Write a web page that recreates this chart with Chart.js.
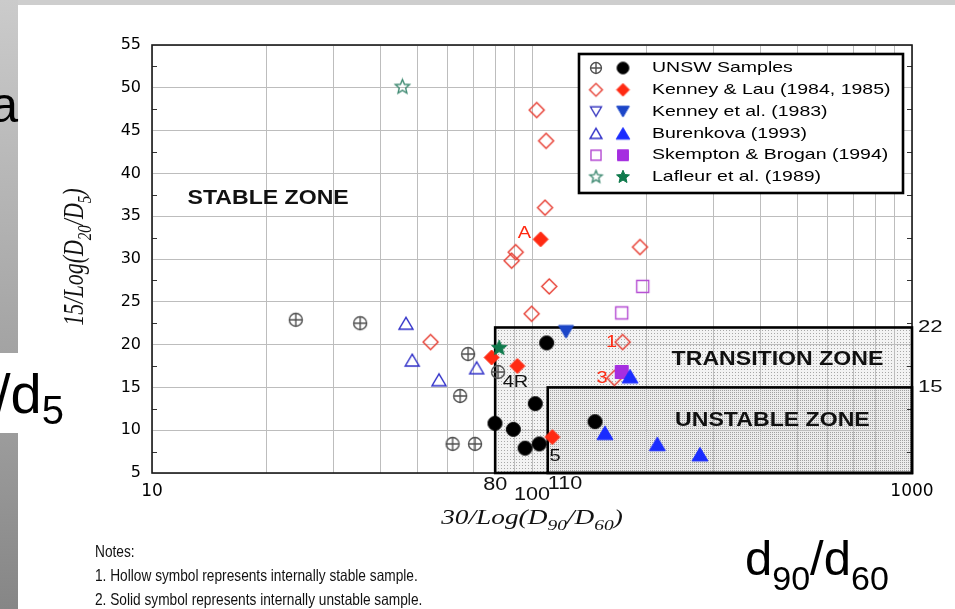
<!DOCTYPE html>
<html lang="en">
<head>
<meta charset="UTF-8">
<title>Internal stability criteria</title>
<script src="https://cdn.jsdelivr.net/npm/chart.js@4"></script>
<style>
  body { margin: 0; width: 955px; height: 609px; overflow: hidden; background: #fff; position: relative; font-family: "Liberation Sans", Arial, sans-serif; }
  #chart { position: absolute; left: 0; top: 0; }
  .topbar { position: absolute; left: 0; top: 0; width: 955px; height: 5px; background: #cecece; }
  .side { position: absolute; left: 0; width: 18px; }
  .big { position: absolute; color: #000; white-space: nowrap; z-index: 2; }
  .notes { position: absolute; left: 95px; top: 539px; font-size: 16.5px; line-height: 24px; color: #111; transform: scaleX(0.83); transform-origin: left top; white-space: nowrap; z-index: 2; }
</style>
</head>
<body>
<div class="topbar"></div>
<div class="side" style="top:0; height:353px; background:linear-gradient(#cbcbcb, #a3a3a3);"></div>
<div class="side" style="top:433px; height:176px; background:linear-gradient(#9c9c9c, #868686);"></div>
<div class="big" style="right:937px; top:80px; font-size:50px; line-height:50px;">a</div>
<div class="big" style="left:-5px; top:366px; font-size:56px; line-height:56px;">/d<span style="font-size:40px; position:relative; top:11px;">5</span></div>
<canvas id="chart" width="955" height="609"></canvas>
<div class="notes">Notes:<br>1. Hollow symbol represents internally stable sample.<br>2. Solid symbol represents internally unstable sample.</div>
<div class="big" style="left:745px; top:534px; font-size:49px; line-height:49px;">d<span style="font-size:34px; position:relative; top:15px;">90</span>/d<span style="font-size:34px; position:relative; top:15px;">60</span></div>
<script>
// values: [30/Log(D90/D60), 15/Log(D20/D5)]
const unswStable = [[23.9,22.9],[35.3,22.5],[67.9,18.9],[81.4,16.8],[64.7,14.0],[61.8,8.4],[70.8,8.4]];
const unswUnstable = [[109.3,20.2],[102,13.1],[79.9,10.8],[89.3,10.1],[95.9,7.9],[104.5,8.4],[146.5,11.0]];
const kenneyLauStable = [[102.9,47.4],[108.9,43.8],[108.2,36.0],[90.6,30.8],[88.4,29.8],[111,26.8],[99.8,23.6],[192.4,31.4],[173.2,20.3],[164.7,16.1],[54.1,20.3]];
const kenneyLauUnstable = [[105.4,32.3],[78.3,18.5],[91.5,17.5],[113.1,9.2]];
const kenney83Stable = [];
const kenney83Unstable = [[122.9,21.5]];
const burenkovaStable = [[46.6,22.5],[48.4,18.2],[56.9,15.9],[71.5,17.3]];
const burenkovaUnstable = [[181.1,16.3],[155.6,9.7],[213.7,8.4],[276.7,7.2]];
const skemptonStable = [[195.6,26.8],[172.2,23.7]];
const skemptonUnstable = [[172.2,16.8]];
const lafleurStable = [[45.6,50.1]];
const lafleurUnstable = [[82.0,19.6]];

const legendNames = ['UNSW Samples', 'Kenney & Lau (1984, 1985)', 'Kenney et al. (1983)', 'Burenkova (1993)', 'Skempton & Brogan (1994)', 'Lafleur et al. (1989)'];
const xGridValues = [10,20,30,40,50,60,70,80,90,100,200,300,400,500,600,700,800,900,1000];
const xLabelledTicks = [10, 1000];
const xExtraTicks = [80, 100, 110];
const xExtraLabels = ['80', '100', '110'];
const yTicks = [5,10,15,20,25,30,35,40,45,50,55];
const transitionZone = { x: 80, y: 22 };
const unstableZone = { x: 110, y: 15 };

const RED = '#ff2a12';
const SX = 1.3; // the figure's text is stretched sideways

// marker images
function makeMarker(kind, size, color, filled) {
    const c = document.createElement('canvas');
    c.width = c.height = Math.ceil(size) + 4;
    const g = c.getContext('2d');
    const m = c.width / 2, r = size / 2;
    g.strokeStyle = color; g.fillStyle = color;
    g.lineWidth = filled ? 1 : 1.4;
    g.beginPath();
    if (kind === 'circle' || kind === 'circleCross') {
        g.arc(m, m, r - 0.5, 0, Math.PI * 2);
    } else if (kind === 'diamond') {
        g.moveTo(m, m - r); g.lineTo(m + r, m); g.lineTo(m, m + r); g.lineTo(m - r, m); g.closePath();
    } else if (kind === 'square') {
        g.rect(m - r + 0.5, m - r + 0.5, 2 * r - 1, 2 * r - 1);
    } else if (kind === 'triUp') {
        const h = r * 0.85;
        g.moveTo(m, m - h); g.lineTo(m + r, m + h); g.lineTo(m - r, m + h); g.closePath();
    } else if (kind === 'triDown') {
        const h = r * 0.85;
        g.moveTo(m - r, m - h); g.lineTo(m + r, m - h); g.lineTo(m, m + h); g.closePath();
    } else if (kind === 'star') {
        for (let i = 0; i < 10; i++) {
            const rr = i % 2 ? r * 0.45 : r;
            const a = -Math.PI / 2 + i * Math.PI / 5;
            i ? g.lineTo(m + rr * Math.cos(a), m + rr * Math.sin(a)) : g.moveTo(m + rr * Math.cos(a), m + rr * Math.sin(a));
        }
        g.closePath();
    }
    if (filled) g.fill();
    g.stroke();
    if (kind === 'circleCross') {
        g.beginPath();
        g.moveTo(m - r + 0.5, m); g.lineTo(m + r - 0.5, m);
        g.moveTo(m, m - r + 0.5); g.lineTo(m, m + r - 0.5);
        g.stroke();
    }
    return c;
}

// one entry per legend row, hollow = stable, solid = unstable
const sources = [
    { stable: unswStable, unstable: unswUnstable, z: 1,
      hollow: ['circleCross', 14, '#505050'], solid: ['circle', 15, '#000'] },
    { stable: kenneyLauStable, unstable: kenneyLauUnstable, z: 2,
      hollow: ['diamond', 15, '#e63a2e'], solid: ['diamond', 15, RED] },
    { stable: kenney83Stable, unstable: kenney83Unstable, z: 3,
      hollow: ['triDown', 13, '#3a3ac0'], solid: ['triDown', 15, '#1c46c8'] },
    { stable: burenkovaStable, unstable: burenkovaUnstable, z: 5,
      hollow: ['triUp', 14, '#2e2ec8'], solid: ['triUp', 16, '#1a2cff'] },
    { stable: skemptonStable, unstable: skemptonUnstable, z: 4,
      hollow: ['square', 13, '#b44ad2'], solid: ['square', 14, '#a52ee0'] },
    { stable: lafleurStable, unstable: lafleurUnstable, z: 6,
      hollow: ['star', 15, '#3f8a72'], solid: ['star', 16, '#0f7a4c'] }
];

const datasets = [];
sources.forEach((s, i) => {
    s.hollowImg = makeMarker(s.hollow[0], s.hollow[1], s.hollow[2], false);
    s.solidImg = makeMarker(s.solid[0], s.solid[1], s.solid[2], true);
    s.hollowLeg = makeMarker(s.hollow[0], s.hollow[1] * 0.85, s.hollow[2], false);
    s.solidLeg = makeMarker(s.solid[0], s.solid[1] * 0.85, s.solid[2], true);
    datasets.push({ label: legendNames[i] + ' (stable)', data: s.stable.map(p => ({ x: p[0], y: p[1] })),
        pointStyle: s.hollowImg, pointRadius: 7, order: 20 - 2 * s.z });
    datasets.push({ label: legendNames[i] + ' (unstable)', data: s.unstable.map(p => ({ x: p[0], y: p[1] })),
        pointStyle: s.solidImg, pointRadius: 7, order: 19 - 2 * s.z });
});

function stretchText(ctx, str, x, y, font, color, align, sx) {
    ctx.save();
    ctx.font = font; ctx.fillStyle = color;
    ctx.textBaseline = 'middle'; ctx.textAlign = 'left';
    const w = ctx.measureText(str).width * sx;
    const x0 = align === 'center' ? x - w / 2 : align === 'right' ? x - w : x;
    ctx.translate(x0, y); ctx.scale(sx, 1);
    ctx.fillText(str, 0, 0);
    ctx.restore();
}

// text with subscripts, drawn centred on the current origin
function richText(ctx, segs, size) {
    const base = 'italic ' + size + 'px "Liberation Serif", "Times New Roman", serif';
    const sub = 'italic ' + Math.round(size * 0.7) + 'px "Liberation Serif", "Times New Roman", serif';
    let w = 0;
    segs.forEach(s => { ctx.font = s[1] ? sub : base; w += ctx.measureText(s[0]).width; });
    let x = -w / 2;
    ctx.textBaseline = 'alphabetic'; ctx.textAlign = 'left'; ctx.fillStyle = '#111';
    segs.forEach(s => {
        ctx.font = s[1] ? sub : base;
        ctx.fillText(s[0], x, s[1] ? size * 0.62 : size * 0.35);
        x += ctx.measureText(s[0]).width;
    });
}

function makePattern(ctx, tile, base, dot) {
    const c = document.createElement('canvas');
    c.width = c.height = tile;
    const g = c.getContext('2d');
    g.fillStyle = base; g.fillRect(0, 0, tile, tile);
    g.fillStyle = dot; g.fillRect(0, 0, 1, 1);
    return ctx.createPattern(c, 'repeat');
}

const zonePlugin = {
    id: 'zones',
    beforeDraw(chart) {
        const { ctx, chartArea: a, scales: { x, y } } = chart;
        const tx = x.getPixelForValue(transitionZone.x), ty = y.getPixelForValue(transitionZone.y);
        const ux = x.getPixelForValue(unstableZone.x), uy = y.getPixelForValue(unstableZone.y);
        ctx.save();
        ctx.fillStyle = '#fff';
        ctx.fillRect(a.left, a.top, a.right - a.left, a.bottom - a.top);
        ctx.fillStyle = makePattern(ctx, 3, '#f3f3f3', '#a8a8a8');
        ctx.fillRect(tx, ty, a.right - tx, a.bottom - ty);
        ctx.fillStyle = makePattern(ctx, 2, '#ebebeb', '#a0a0a0');
        ctx.fillRect(ux, uy, a.right - ux, a.bottom - uy);
        ctx.restore();
    },
    beforeDatasetsDraw(chart) {
        const { ctx, chartArea: a, scales: { x, y } } = chart;
        ctx.save();
        // minor ticks on the left and right frame
        ctx.strokeStyle = '#333'; ctx.lineWidth = 1;
        yTicks.slice(1).forEach((v, i) => {
            const py = Math.round(y.getPixelForValue((v + yTicks[i]) / 2)) + 0.5;
            ctx.beginPath();
            ctx.moveTo(a.left, py); ctx.lineTo(a.left + 5, py);
            ctx.moveTo(a.right, py); ctx.lineTo(a.right - 5, py);
            ctx.stroke();
        });
        ctx.strokeStyle = '#1a1a1a'; ctx.lineWidth = 1.6;
        ctx.strokeRect(a.left, a.top, a.right - a.left, a.bottom - a.top);
        const tx = x.getPixelForValue(transitionZone.x), ty = y.getPixelForValue(transitionZone.y);
        const ux = x.getPixelForValue(unstableZone.x), uy = y.getPixelForValue(unstableZone.y);
        ctx.strokeStyle = '#000'; ctx.lineWidth = 2.6;
        ctx.strokeRect(tx, ty, a.right - tx, a.bottom - ty);
        ctx.strokeRect(ux, uy, a.right - ux, a.bottom - uy);
        ctx.restore();
    }
};

const zoneLabels = [
    { text: 'STABLE ZONE', x: 12.4, y: 37.1 },
    { text: 'TRANSITION ZONE', x: 233, y: 18.3 },
    { text: 'UNSTABLE ZONE', x: 238, y: 11.2 }
];
const pointNotes = [
    { text: 'A', x: 95.5, y: 33.0, color: RED },
    { text: '1', x: 162, y: 20.2, color: RED },
    { text: '3', x: 152.8, y: 16.0, color: RED },
    { text: '4R', x: 90.5, y: 15.6, color: '#111' },
    { text: '5', x: 115, y: 6.9, color: '#111' }
];

const labelPlugin = {
    id: 'labels',
    afterDatasetsDraw(chart) {
        const { ctx, chartArea: a, scales: { x, y } } = chart;
        zoneLabels.forEach(l => stretchText(ctx, l.text, x.getPixelForValue(l.x), y.getPixelForValue(l.y),
            'bold 21px "Liberation Sans", Arial, sans-serif', '#111', 'left', 1.1));
        pointNotes.forEach(l => stretchText(ctx, l.text, x.getPixelForValue(l.x), y.getPixelForValue(l.y),
            '16px "Liberation Sans", Arial, sans-serif', l.color, 'center', 1.25));
        // zone limits at the right of the frame
        [transitionZone.y, unstableZone.y].forEach(v => stretchText(ctx, String(v), a.right + 6, y.getPixelForValue(v),
            '17px "Liberation Sans", Arial, sans-serif', '#111', 'left', SX));
        // zone limits under the x axis
        const dy = [12, 22, 11], al = ['center', 'center', 'left'];
        xExtraTicks.forEach((v, i) => stretchText(ctx, xExtraLabels[i], x.getPixelForValue(v), a.bottom + dy[i],
            '18px "Liberation Sans", Arial, sans-serif', '#111', al[i], 1.2));
        // axis titles
        ctx.save();
        ctx.translate((a.left + a.right) / 2, 517);
        ctx.scale(SX, 1);
        richText(ctx, [['30/Log(D', 0], ['90', 1], ['/D', 0], ['60', 1], [')', 0]], 21);
        ctx.restore();
        ctx.save();
        ctx.translate(73, (a.top + a.bottom) / 2 - 2);
        ctx.rotate(-Math.PI / 2);
        ctx.scale(1, SX);
        richText(ctx, [['15/Log(D', 0], ['20', 1], ['/D', 0], ['5', 1], [')', 0]], 22);
        ctx.restore();
    },
    afterDraw(chart) {
        const ctx = chart.ctx;
        const box = { left: 579, top: 54, width: 324, height: 139 };
        ctx.save();
        ctx.fillStyle = '#fff';
        ctx.fillRect(box.left, box.top, box.width, box.height);
        ctx.strokeStyle = '#000'; ctx.lineWidth = 2.6;
        ctx.strokeRect(box.left, box.top, box.width, box.height);
        sources.forEach((s, i) => {
            const ry = 68 + i * 21.8;
            ctx.drawImage(s.hollowLeg, 596 - s.hollowLeg.width / 2, ry - s.hollowLeg.height / 2);
            ctx.drawImage(s.solidLeg, 623 - s.solidLeg.width / 2, ry - s.solidLeg.height / 2);
            stretchText(ctx, legendNames[i], 652, ry, '15px "Liberation Sans", Arial, sans-serif', '#000', 'left', SX);
        });
        ctx.restore();
    }
};

new Chart(document.getElementById('chart'), {
    type: 'scatter',
    data: { datasets: datasets },
    plugins: [zonePlugin, labelPlugin],
    options: {
        responsive: false,
        animation: false,
        layout: { padding: { left: 0, top: 45, right: 43, bottom: 0 } },
        plugins: { legend: { display: false }, tooltip: { enabled: false } },
        scales: {
            x: {
                type: 'logarithmic', min: 10, max: 1000,
                afterBuildTicks: s => { s.ticks = xGridValues.map(v => ({ value: v })); },
                afterFit: s => { s.height = 136; },
                border: { display: false },
                grid: { color: '#bdbdbd', lineWidth: 1, drawTicks: false },
                ticks: {
                    autoSkip: false, maxRotation: 0, padding: 8, color: '#000',
                    font: { family: 'DejaVu Sans', size: 17 },
                    callback: v => xLabelledTicks.includes(v) ? String(v) : ''
                }
            },
            y: {
                min: 5, max: 55,
                afterBuildTicks: s => { s.ticks = yTicks.map(v => ({ value: v })); },
                afterFit: s => { s.width = 152; },
                border: { display: false },
                grid: { color: '#bdbdbd', lineWidth: 1, drawTicks: false },
                ticks: { padding: 11, color: '#000', font: { family: 'DejaVu Sans', size: 16 } }
            }
        }
    }
});
</script>
</body>
</html>
